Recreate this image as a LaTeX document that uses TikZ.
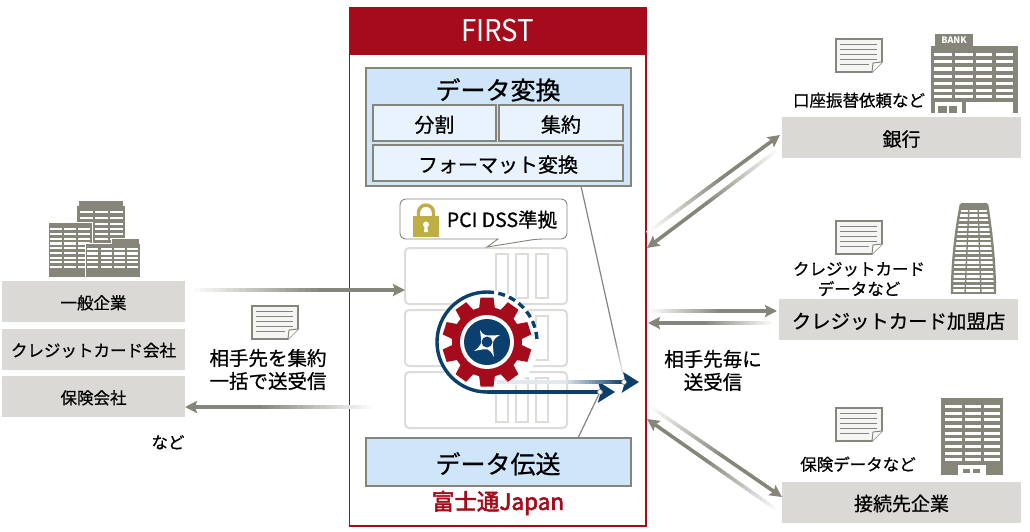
\documentclass[tikz,border=0pt]{standalone}
\usepackage{xcolor}
\usepackage{fontspec}
\setmainfont{Noto Sans CJK JP}[UprightFeatures={FakeBold=0.7}]
\newfontfamily\plainfont{Noto Sans CJK JP}
\newfontfamily\fjpfont{Noto Sans CJK JP}[FakeBold=2.6]
\usetikzlibrary{arrows.meta,calc}

\definecolor{firstred}{HTML}{A50B1B}
\definecolor{boxblue}{HTML}{CFE5F9}
\definecolor{cellblue}{HTML}{E8F3FD}
\definecolor{boxgrey}{HTML}{DAD9D6}
\definecolor{bldgrey}{HTML}{85857A}
\definecolor{srvgrey}{HTML}{DCDCD8}
\definecolor{gearblue}{HTML}{0B3F6E}
\definecolor{lockgold}{HTML}{BFAE45}

\newcommand{\fs}[1]{\fontsize{#1}{#1}\selectfont}

% colour, width, from, to, share that fades, options of the solid rest
\newcommand{\fadeline}[6]{
	\foreach \t in {0,5,...,95}{
		\pgfmathsetmacro{\ta}{\t*#5/100}
		\pgfmathsetmacro{\tb}{(\t+6)*#5/100}
		\draw[#1!\t!white, line width=#2] ($(#3)!\ta!(#4)$) -- ($(#3)!\tb!(#4)$);
	}
	\draw[#1, line width=#2, #6] ($(#3)!#5!(#4)$) -- (#4);
}

\tikzset{
	txt/.style={font=\fs{#1}, text height=1.02*#1pt, text depth=0.1*#1pt},
	greytip/.style={-{Stealth[length=12pt,width=12pt,inset=2pt]}},
	bluetip/.style={-{Stealth[length=17pt,width=21pt,inset=3pt]}},
	greybox/.style={fill=boxgrey, inner sep=0pt, minimum height=41pt},
	convbox/.style={draw=bldgrey, line width=2pt, fill=boxblue, inner sep=0pt},
	cellbox/.style={draw=bldgrey, line width=1.2pt, fill=cellblue, inner sep=0pt, txt=20},
	srvbox/.style={draw=srvgrey, line width=2pt, rounded corners=4pt, fill=white},
	srvslot/.style={draw=srvgrey, line width=2pt, fill=white},
	dotmark/.style={circle, draw=bldgrey, fill=white, line width=0.7pt, minimum size=5pt, inner sep=0pt},
	docicon/.pic={
		\draw[bldgrey, fill=gray!8, line width=1.6pt] (0,0) -- (46,0) -- (46,23) -- (36,33) -- (0,33) -- cycle;
		\draw[bldgrey, fill=white, line width=1pt] (46,23) -- (37,24) -- (36,33);
		\foreach \y in {5,10,15,20}
			\draw[bldgrey, line width=0.9pt] (4,\y) -- (41,\y);
		\draw[bldgrey, line width=0.9pt] (4,25) -- (33,25);
	},
	bankicon/.pic={
		\fill[bldgrey] (0,0) rectangle (87,67);
		\fill[bldgrey] (4,-12) rectangle (42,0);
		\node[white, font=\bfseries\fs{9}] (banktag) at (23,-6) {BANK};
		\foreach \y in {7,14.2,21.4,28.6,35.8,43,49}
			\foreach \x/\w in {3/18,24/18,45/16,65/17}
				\fill[white] (\x,\y) rectangle ++(\w,3.2);
		\fill[white] (4,56) rectangle (31,67);
		\fill[white] (35,56) rectangle (82,67);
		\fill[bldgrey] (7,60) rectangle (16,67);
		\fill[bldgrey] (18,60) rectangle (26,67);
	},
	officeicon/.pic={
		\fill[bldgrey] (0,0) rectangle (62,77);
		\foreach \y in {7,13.7,20.3,27,33.7,40.3,47,53.7,60.3}
			\foreach \x/\w in {4/17,23.5/16.5,43/16}
				\fill[white] (\x,\y) rectangle ++(\w,3);
		\fill[white] (17,67) rectangle (45,77);
		\fill[bldgrey] (21.7,71) rectangle (29,75);
		\fill[bldgrey] (32,71) rectangle (39,75);
	},
}

\begin{document}
\begin{tikzpicture}[x=1pt,y=-1pt]
	\useasboundingbox (0,0) rectangle (1030,531);

	% main frame
	\draw[firstred, line width=1.3pt, fill=white] (349.5,7.5) rectangle (646,526);
	\fill[firstred] (349,7) rectangle (646.5,54.5);
	\node[xscale=0.92, text=white, font=\plainfont\fs{30}] (first) at (497.75,31) {FIRST};

	% conversion box
	\node[convbox, minimum width=265pt, minimum height=118pt] (conv) at (498,126.5) {};
	\node[txt=25] (convtitle) at (498,88) {データ変換};
	\node[cellbox, minimum width=123pt, minimum height=36pt] (split) at (434.5,123) {分割};
	\node[cellbox, minimum width=124pt, minimum height=36pt] (merge) at (561,123) {集約};
	\node[cellbox, minimum width=250pt, minimum height=36pt] (format) at (498,163) {フォーマット変換};

	% transfer box
	\node[convbox, minimum width=265pt, minimum height=48pt, txt=25] (trans) at (498,462) {データ伝送};
	\node[text=firstred, font=\fjpfont\fs{22.5}] (fjp) at (498,503) {富士通Japan};

	% servers
	\foreach \y in {248,310,372}{
		\draw[srvbox] (405,\y) rectangle ++(162,56);
		\foreach \x in {496,516,536}
			\draw[srvslot] (\x,\y+6) rectangle ++(12,44);
	}

	% callout
	\draw[bldgrey, line width=0.9pt, fill=white, rounded corners=6pt] (498,239) -- (400,239) -- (400,199) -- (567,199) -- (567,239) -- (537,239) [sharp corners] -- (487,247) -- cycle;
	\node[txt=19.5] (pci) at (502,218) {PCI DSS準拠};
	\draw[lockgold, line width=3.4pt] (418.5,217) -- (418.5,212.5) arc[start angle=180,end angle=0,radius=7.5pt] -- (433.5,217);
	\fill[lockgold] (413,216) rectangle (439,237);
	\fill[white] (426,224.5) circle[radius=3pt];
	\fill[white] (424.8,225) -- (427.2,225) -- (428,232) -- (424,232) -- cycle;

	% gear with its arrows
	\coordinate (gear) at (487,342);
	\coordinate (blueend) at (615,392);
	\coordinate (bluepale) at (497,382);
	\coordinate (bluemid) at (565,382);
	\coordinate (bluein) at (555,382);
	\coordinate (blueout) at (639,382);
	\fill[white] (gear) circle[radius=52pt];
	\draw[gearblue, line width=3.4pt] ($(gear)+(0,50)$) arc[start angle=270,end angle=90,radius=50pt];
	\draw[gearblue, line width=3.4pt, dash pattern=on 7pt off 4.4pt] ($(gear)+(0,-50)$) arc[start angle=90,end angle=0,radius=50pt];
	\draw[gearblue, line width=3.4pt, bluetip] ($(gear)+(0,50)$) -- (blueend);
	\fadeline{gearblue}{3.4pt}{bluein}{blueout}{0.8}{bluetip}
	\draw[gearblue!12, line width=3.4pt] (bluepale) -- (bluemid);
	\begin{scope}[shift={(gear)}]
		\fill[firstred] (0,0) circle[radius=35pt];
		\foreach \a in {0,36,...,324}
			\fill[firstred, rotate=\a] (-8,-33) -- (-6.5,-44.5) -- (6.5,-44.5) -- (8,-33) -- cycle;
		\fill[white] (0,0) circle[radius=27pt];
		\fill[gearblue] (0,0) circle[radius=23pt];
		\fill[white] (-7,-12) .. controls (-3,-6) .. (13,-7) .. controls (5,-2) .. (7,15) .. controls (2,6) .. (-13,9) .. controls (-5,3) .. cycle;
		\fill[gearblue] (0,0) circle[radius=5.5pt];
	\end{scope}

	% thin lines to the gear arrows
	\node[dotmark] (dota) at (624,382) {};
	\node[dotmark] (dotb) at (600,392) {};
	\coordinate (convout) at (581,186);
	\coordinate (transout) at (578,438);
	\fadeline{bldgrey}{1.2pt}{dota.north}{convout}{0.2}{}
	\draw[bldgrey, line width=1.2pt] (transout) -- (dotb);

	% left side
	\node[greybox, minimum width=183pt, txt=16.5] (ippan) at (93.5,301.5) {一般企業};
	\node[greybox, minimum width=183pt, txt=16.5] (cardco) at (93.5,349) {クレジットカード会社};
	\node[greybox, minimum width=183pt, txt=16.5] (insco) at (93.5,396.5) {保険会社};
	\node[txt=16.5] (nado) at (168,441) {など};
	\pic at (252,306) {docicon};
	\node[font=\fs{19.5}, align=center] (bulk) at (268,369.5) {相手先を集約\\[3.5pt]一括で送受信};

	% left buildings
	\fill[bldgrey] (79,201) rectangle (123,206);
	\fill[bldgrey] (77,206) rectangle (125,243);
	\foreach \y in {211,217,222.5,227.5,232.5,237.5}
		\foreach \x in {79.5,95,110}
			\fill[white] (\x,\y) rectangle ++(13,2.4);
	\draw[white, line width=1pt, fill=bldgrey] (48,222) rectangle (92,277);
	\foreach \y in {228,232.7,237.5,242.3,247,251.7,256.5,260.7,265.7}
		\foreach \x in {50,64,77.7}
			\fill[white] (\x,\y) rectangle ++(12,2.4);
	\draw[white, line width=1pt, fill=bldgrey] (85,277) -- (85,243) -- (111,243) -- (111,238) -- (139,238) -- (139,243) -- (140,243) -- (140,277) -- cycle;
	\foreach \y in {248,252.3,256.7,261,265.5}
		\foreach \x in {87.3,100.7,114,126.7}
			\fill[white] (\x,\y) rectangle ++(11,2.4);

	% right side
	\node[greybox, minimum width=239pt, txt=19] (bank) at (901.5,137.5) {銀行};
	\node[greybox, minimum width=239pt, txt=19.4] (shop) at (898.5,319.5) {クレジットカード加盟店};
	\node[greybox, minimum width=239pt, txt=19] (partner) at (901.5,502) {接続先企業};
	\pic at (836,39) {docicon};
	\pic at (836,221) {docicon};
	\pic at (836,408) {docicon};
	\node[txt=16.5] (banktxt) at (859,99) {口座振替依頼など};
	\node[font=\fs{16.5}, align=center] (shoptxt) at (859,279) {クレジットカード\\[3.5pt]データなど};
	\node[txt=16.5] (parttxt) at (858,463) {保険データなど};
	\node[font=\fs{19.5}, align=center] (each) at (713,370.5) {相手先毎に\\[3.5pt]送受信};
	\pic at (931,46) {bankicon};
	\pic at (941,398) {officeicon};

	% tower
	\begin{scope}
		\clip (961,204) .. controls (956,228) and (952,262) .. (952,294) -- (995,294) .. controls (995,262) and (991,228) .. (987,204) -- cycle;
		\fill[bldgrey] (950,204) rectangle (997,294);
		\foreach \i in {0,...,17}
			\fill[white] (950,209.5+\i*4.7) rectangle ++(47,2.4);
	\end{scope}
	\draw[bldgrey, line width=2.4pt] (961,204) .. controls (956,228) and (952,262) .. (952,294);
	\draw[bldgrey, line width=2.4pt] (987,204) .. controls (991,228) and (995,262) .. (995,294);
	\draw[bldgrey, line width=1.4pt] (969,205) -- (965,294);
	\draw[bldgrey, line width=1.4pt] (978,205) -- (981,294);
	\fill[bldgrey] (961,203) rectangle (987,209);

	% arrows
	\coordinate (mailin) at (187,290);
	\coordinate (srvin) at (405,290);
	\coordinate (mailout) at (378,407);
	\coordinate (insin) at (185,407);
	\fadeline{bldgrey}{3.6pt}{mailin}{srvin}{0.6}{greytip}
	\fadeline{bldgrey}{3.6pt}{mailout}{insin}{0.6}{greytip}

	\coordinate (upa) at (647,233);
	\coordinate (bankin) at (780,135);
	\coordinate (bankout) at (780,148);
	\coordinate (upb) at (647,248);
	\fadeline{bldgrey}{3.6pt}{upa}{bankin}{0.55}{greytip}
	\fadeline{bldgrey}{3.6pt}{bankout}{upb}{0.55}{greytip}

	\coordinate (mida) at (647,311);
	\coordinate (shopin) at (777,311);
	\coordinate (shopout) at (776,323);
	\coordinate (midb) at (648,323);
	\fadeline{bldgrey}{3.6pt}{mida}{shopin}{0.55}{greytip}
	\fadeline{bldgrey}{3.6pt}{shopout}{midb}{0.55}{greytip}

	\coordinate (lowa) at (648,405);
	\coordinate (partin) at (782,497);
	\coordinate (partout) at (780,512);
	\coordinate (lowb) at (647,419);
	\fadeline{bldgrey}{3.6pt}{lowa}{partin}{0.55}{greytip}
	\fadeline{bldgrey}{3.6pt}{partout}{lowb}{0.55}{greytip}
\end{tikzpicture}
\end{document}
